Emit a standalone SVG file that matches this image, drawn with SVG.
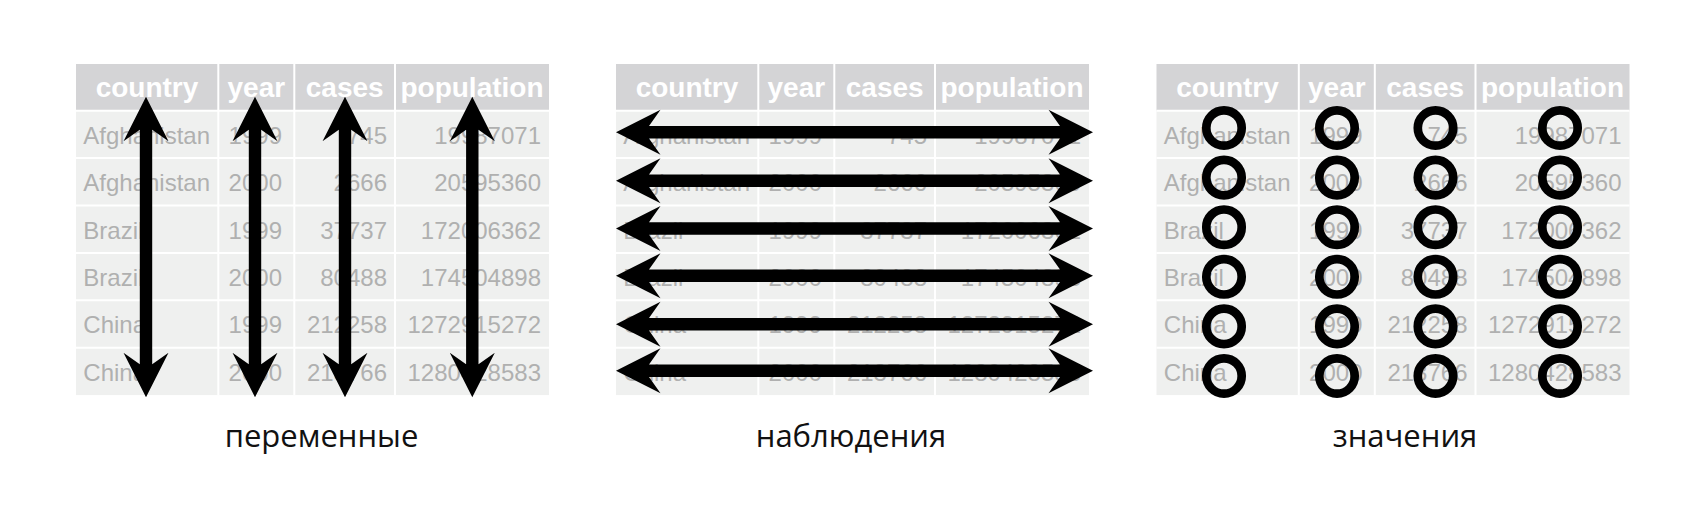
<svg xmlns="http://www.w3.org/2000/svg" xmlns:xlink="http://www.w3.org/1999/xlink" width="1696" height="508" viewBox="0 0 1696 508">
<style>
.hbg{fill:#d4d4d6}
.bbg{fill:#eff0ef}
.grid{stroke:#ffffff;stroke-width:2;fill:none}
.h{font-family:"Liberation Sans",Arial,sans-serif;font-weight:bold;font-size:28px;fill:#ffffff;text-anchor:middle}
.c{font-family:"Liberation Sans",Arial,sans-serif;font-size:24px;fill:#b0b0b0}
.n{text-anchor:end}
.lbl{font-family:"Open Sans","Noto Sans",sans-serif;font-size:31px;fill:#111111;text-anchor:middle}
.arr{fill:#000000}
.ring{fill:none;stroke:#000000;stroke-width:8.7}
</style>
<defs>
<path id="varrow" d="M0,0 L22.5,44.5 L6.2,33 L6.2,267.6 L22.5,256.1 L0,300.6 L-22.5,256.1 L-6.2,267.6 L-6.2,33 L-22.5,44.5 Z"/>
<path id="harrow" d="M0,0 L44.5,-22.5 L33,-6.2 L444,-6.2 L432.5,-22.5 L477,0 L432.5,22.5 L444,6.2 L33,6.2 L44.5,22.5 Z"/>
</defs>

<g id="panel-variables">
<rect class="hbg" x="76" y="64" width="473" height="46.7"/>
<rect class="bbg" x="76" y="110.7" width="473" height="284.4"/>
<path class="grid" d="M218.3,64V395.1M294.3,64V395.1M395,64V395.1M76,110.7H549M76,158.1H549M76,205.5H549M76,252.9H549M76,300.3H549M76,347.7H549"/>
<text class="h" x="147" y="96.7">country</text>
<text class="h" x="256.3" y="96.7">year</text>
<text class="h" x="344.7" y="96.7">cases</text>
<text class="h" x="472" y="96.7">population</text>
<text class="c" x="83.3" y="143.7">Afghanistan</text><text class="c n" x="282" y="143.7">1999</text><text class="c n" x="387" y="143.7">745</text><text class="c n" x="541" y="143.7">19987071</text>
<text class="c" x="83.3" y="191.1">Afghanistan</text><text class="c n" x="282" y="191.1">2000</text><text class="c n" x="387" y="191.1">2666</text><text class="c n" x="541" y="191.1">20595360</text>
<text class="c" x="83.3" y="238.5">Brazil</text><text class="c n" x="282" y="238.5">1999</text><text class="c n" x="387" y="238.5">37737</text><text class="c n" x="541" y="238.5">172006362</text>
<text class="c" x="83.3" y="285.9">Brazil</text><text class="c n" x="282" y="285.9">2000</text><text class="c n" x="387" y="285.9">80488</text><text class="c n" x="541" y="285.9">174504898</text>
<text class="c" x="83.3" y="333.3">China</text><text class="c n" x="282" y="333.3">1999</text><text class="c n" x="387" y="333.3">212258</text><text class="c n" x="541" y="333.3">1272915272</text>
<text class="c" x="83.3" y="380.7">China</text><text class="c n" x="282" y="380.7">2000</text><text class="c n" x="387" y="380.7">213766</text><text class="c n" x="541" y="380.7">1280428583</text>
<g id="variable-arrows" class="arr">
<use xlink:href="#varrow" href="#varrow" x="146" y="96.7"/>
<use xlink:href="#varrow" href="#varrow" x="255" y="96.7"/>
<use xlink:href="#varrow" href="#varrow" x="345" y="96.7"/>
<use xlink:href="#varrow" href="#varrow" x="472.3" y="96.7"/>
</g>
<text class="lbl" x="321.5" y="447">переменные</text>
</g>

<g id="panel-observations" transform="translate(540,0)">
<rect class="hbg" x="76" y="64" width="473" height="46.7"/>
<rect class="bbg" x="76" y="110.7" width="473" height="284.4"/>
<path class="grid" d="M218.3,64V395.1M294.3,64V395.1M395,64V395.1M76,110.7H549M76,158.1H549M76,205.5H549M76,252.9H549M76,300.3H549M76,347.7H549"/>
<text class="h" x="147" y="96.7">country</text>
<text class="h" x="256.3" y="96.7">year</text>
<text class="h" x="344.7" y="96.7">cases</text>
<text class="h" x="472" y="96.7">population</text>
<text class="c" x="83.3" y="143.7">Afghanistan</text><text class="c n" x="282" y="143.7">1999</text><text class="c n" x="387" y="143.7">745</text><text class="c n" x="541" y="143.7">19987071</text>
<text class="c" x="83.3" y="191.1">Afghanistan</text><text class="c n" x="282" y="191.1">2000</text><text class="c n" x="387" y="191.1">2666</text><text class="c n" x="541" y="191.1">20595360</text>
<text class="c" x="83.3" y="238.5">Brazil</text><text class="c n" x="282" y="238.5">1999</text><text class="c n" x="387" y="238.5">37737</text><text class="c n" x="541" y="238.5">172006362</text>
<text class="c" x="83.3" y="285.9">Brazil</text><text class="c n" x="282" y="285.9">2000</text><text class="c n" x="387" y="285.9">80488</text><text class="c n" x="541" y="285.9">174504898</text>
<text class="c" x="83.3" y="333.3">China</text><text class="c n" x="282" y="333.3">1999</text><text class="c n" x="387" y="333.3">212258</text><text class="c n" x="541" y="333.3">1272915272</text>
<text class="c" x="83.3" y="380.7">China</text><text class="c n" x="282" y="380.7">2000</text><text class="c n" x="387" y="380.7">213766</text><text class="c n" x="541" y="380.7">1280428583</text>
<g id="observation-arrows" class="arr">
<use xlink:href="#harrow" href="#harrow" x="76" y="132.2"/>
<use xlink:href="#harrow" href="#harrow" x="76" y="180.8"/>
<use xlink:href="#harrow" href="#harrow" x="76" y="228.5"/>
<use xlink:href="#harrow" href="#harrow" x="76" y="275.8"/>
<use xlink:href="#harrow" href="#harrow" x="76" y="324.2"/>
<use xlink:href="#harrow" href="#harrow" x="76" y="370.8"/>
</g>
<text class="lbl" x="311" y="447">наблюдения</text>
</g>

<g id="panel-values" transform="translate(1080.5,0)">
<rect class="hbg" x="76" y="64" width="473" height="46.7"/>
<rect class="bbg" x="76" y="110.7" width="473" height="284.4"/>
<path class="grid" d="M218.3,64V395.1M294.3,64V395.1M395,64V395.1M76,110.7H549M76,158.1H549M76,205.5H549M76,252.9H549M76,300.3H549M76,347.7H549"/>
<text class="h" x="147" y="96.7">country</text>
<text class="h" x="256.3" y="96.7">year</text>
<text class="h" x="344.7" y="96.7">cases</text>
<text class="h" x="472" y="96.7">population</text>
<text class="c" x="83.3" y="143.7">Afghanistan</text><text class="c n" x="282" y="143.7">1999</text><text class="c n" x="387" y="143.7">745</text><text class="c n" x="541" y="143.7">19987071</text>
<text class="c" x="83.3" y="191.1">Afghanistan</text><text class="c n" x="282" y="191.1">2000</text><text class="c n" x="387" y="191.1">2666</text><text class="c n" x="541" y="191.1">20595360</text>
<text class="c" x="83.3" y="238.5">Brazil</text><text class="c n" x="282" y="238.5">1999</text><text class="c n" x="387" y="238.5">37737</text><text class="c n" x="541" y="238.5">172006362</text>
<text class="c" x="83.3" y="285.9">Brazil</text><text class="c n" x="282" y="285.9">2000</text><text class="c n" x="387" y="285.9">80488</text><text class="c n" x="541" y="285.9">174504898</text>
<text class="c" x="83.3" y="333.3">China</text><text class="c n" x="282" y="333.3">1999</text><text class="c n" x="387" y="333.3">212258</text><text class="c n" x="541" y="333.3">1272915272</text>
<text class="c" x="83.3" y="380.7">China</text><text class="c n" x="282" y="380.7">2000</text><text class="c n" x="387" y="380.7">213766</text><text class="c n" x="541" y="380.7">1280428583</text>
<g id="value-circles" class="ring">
<circle cx="143.5" cy="128" r="17.7"/><circle cx="256.5" cy="128" r="17.7"/><circle cx="355" cy="128" r="17.7"/><circle cx="479.5" cy="128" r="17.7"/>
<circle cx="143.5" cy="177.6" r="17.7"/><circle cx="256.5" cy="177.6" r="17.7"/><circle cx="355" cy="177.6" r="17.7"/><circle cx="479.5" cy="177.6" r="17.7"/>
<circle cx="143.5" cy="227.2" r="17.7"/><circle cx="256.5" cy="227.2" r="17.7"/><circle cx="355" cy="227.2" r="17.7"/><circle cx="479.5" cy="227.2" r="17.7"/>
<circle cx="143.5" cy="276.8" r="17.7"/><circle cx="256.5" cy="276.8" r="17.7"/><circle cx="355" cy="276.8" r="17.7"/><circle cx="479.5" cy="276.8" r="17.7"/>
<circle cx="143.5" cy="326.4" r="17.7"/><circle cx="256.5" cy="326.4" r="17.7"/><circle cx="355" cy="326.4" r="17.7"/><circle cx="479.5" cy="326.4" r="17.7"/>
<circle cx="143.5" cy="376" r="17.7"/><circle cx="256.5" cy="376" r="17.7"/><circle cx="355" cy="376" r="17.7"/><circle cx="479.5" cy="376" r="17.7"/>
</g>
<text class="lbl" x="324.5" y="447">значения</text>
</g>
</svg>
